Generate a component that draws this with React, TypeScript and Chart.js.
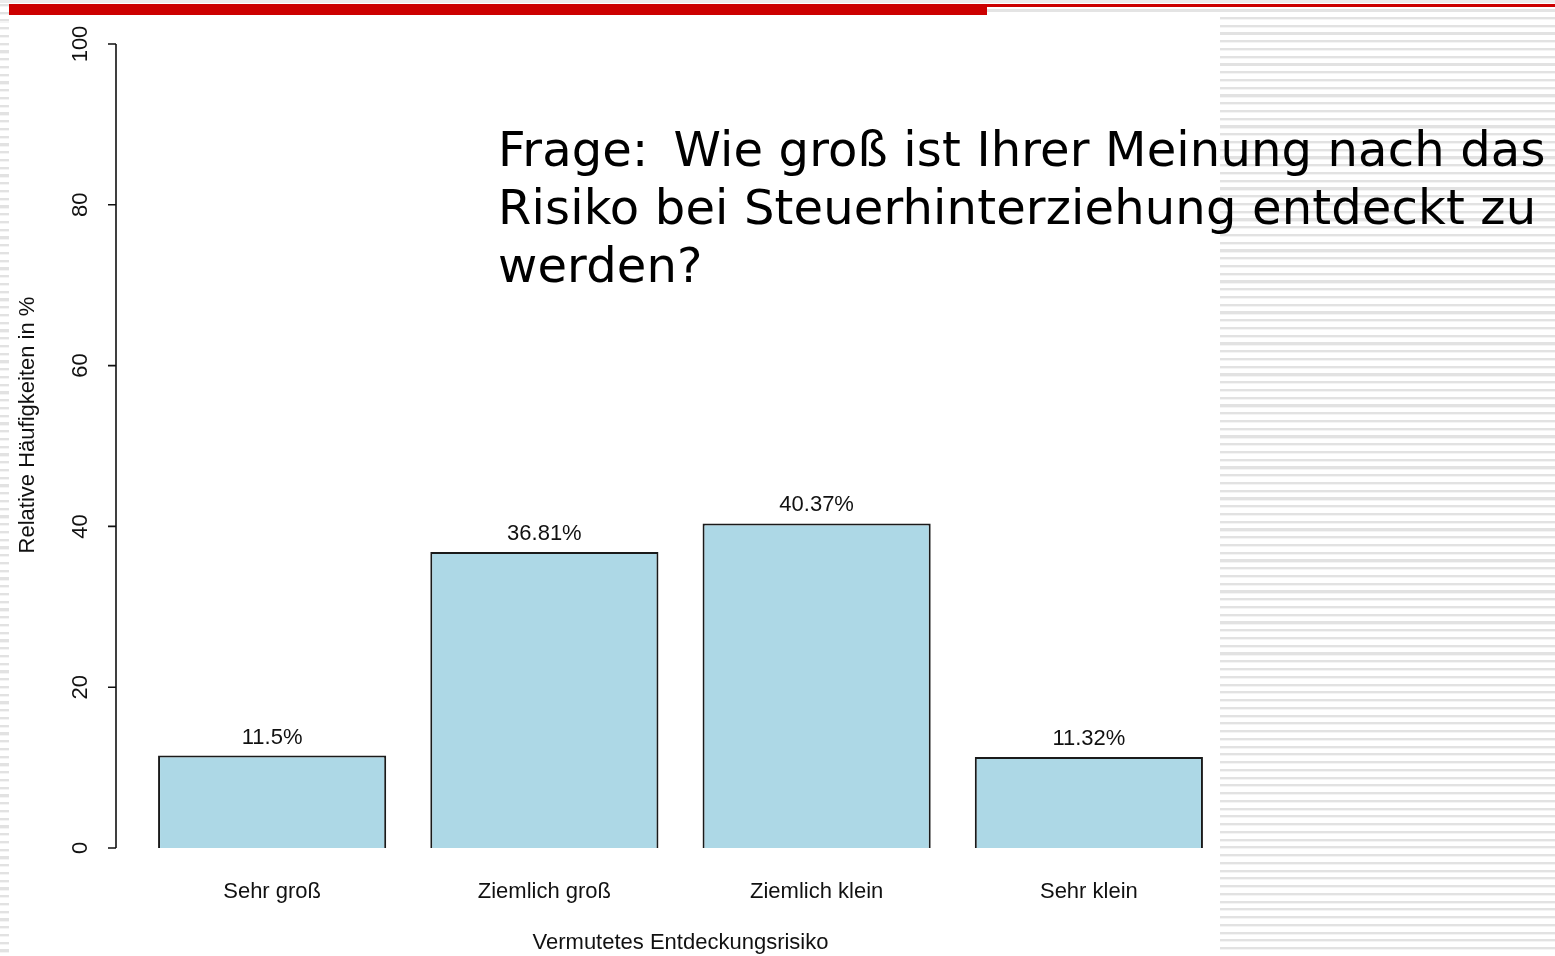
import React, { useEffect, useRef } from "react";
import { Chart, registerables } from "chart.js";

Chart.register(...registerables);

const categories = ["Sehr groß", "Ziemlich groß", "Ziemlich klein", "Sehr klein"];
const percentValues = [11.5, 36.81, 40.37, 11.32];
const valueLabels = ["11.5%", "36.81%", "40.37%", "11.32%"];
const yTicks = [0, 20, 40, 60, 80, 100];
const yTickLabels = ["0", "20", "40", "60", "80", "100"];
const xAxisTitle = "Vermutetes Entdeckungsrisiko";
const yAxisTitle = "Relative Häufigkeiten in %";
const titleLines = [
  "Frage:\u2009 Wie groß ist Ihrer Meinung nach das",
  "Risiko bei Steuerhinterziehung entdeckt zu",
  "werden?",
];

const FONT = "'Liberation Sans', Arial, sans-serif";
const TEXT = "#111111";
const FS = 22;

const rAxisPlugin = {
  id: "rAxis",
  afterDraw(chart: any) {
    const ctx = chart.ctx;
    const y = chart.scales.y;
    const axisX = chart.chartArea.left - 20;
    ctx.save();
    ctx.strokeStyle = TEXT;
    ctx.lineWidth = 1.6;
    ctx.beginPath();
    ctx.moveTo(axisX, y.getPixelForValue(yTicks[0]));
    ctx.lineTo(axisX, y.getPixelForValue(yTicks[yTicks.length - 1]));
    yTicks.forEach((t) => {
      const py = y.getPixelForValue(t);
      ctx.moveTo(axisX - 8, py);
      ctx.lineTo(axisX, py);
    });
    ctx.stroke();
    ctx.fillStyle = TEXT;
    ctx.font = `${FS}px ${FONT}`;
    ctx.textAlign = "center";
    ctx.textBaseline = "middle";
    yTicks.forEach((t, i) => {
      const py = y.getPixelForValue(t);
      ctx.save();
      ctx.translate(axisX - 35, py);
      ctx.rotate(-Math.PI / 2);
      ctx.fillText(yTickLabels[i], 0, 0);
      ctx.restore();
    });
    const midY = (y.getPixelForValue(yTicks[0]) + y.getPixelForValue(yTicks[yTicks.length - 1])) / 2 - 21;
    ctx.save();
    ctx.translate(axisX - 88, midY);
    ctx.rotate(-Math.PI / 2);
    ctx.fillText(yAxisTitle, 0, 0);
    ctx.restore();
    ctx.restore();
  },
};

const valueLabelPlugin = {
  id: "valueLabels",
  afterDatasetsDraw(chart: any) {
    const ctx = chart.ctx;
    const meta = chart.getDatasetMeta(0);
    ctx.save();
    ctx.fillStyle = TEXT;
    ctx.font = `${FS}px ${FONT}`;
    ctx.textAlign = "center";
    ctx.textBaseline = "bottom";
    meta.data.forEach((bar: any, i: number) => {
      ctx.fillText(valueLabels[i], bar.x, bar.y - 7);
    });
    ctx.restore();
  },
};

export default function App() {
  const ref = useRef<HTMLCanvasElement | null>(null);

  useEffect(() => {
    if (!ref.current) return;
    const chart = new Chart(ref.current, {
      type: "bar",
      data: {
        labels: categories,
        datasets: [
          {
            data: percentValues,
            backgroundColor: "#ADD8E6",
            borderColor: "#1a1a1a",
            borderWidth: 2,
            barPercentage: 0.838,
            categoryPercentage: 1,
          },
        ],
      },
      options: {
        responsive: false,
        animation: false,
        events: [],
        layout: { padding: { left: 136, right: 330, top: 44, bottom: 0 } },
        plugins: {
          legend: { display: false },
          tooltip: { enabled: false },
          title: { display: false },
        },
        scales: {
          y: { display: false, min: 0, max: 100 },
          x: {
            offset: true,
            grid: { display: false, drawTicks: false },
            border: { display: false },
            ticks: {
              padding: 31,
              color: TEXT,
              font: { family: FONT, size: FS },
            },
            title: {
              display: true,
              text: xAxisTitle,
              color: TEXT,
              font: { family: FONT, size: FS },
              padding: { top: 27, bottom: 0 },
            },
            afterFit: (scale: any) => {
              scale.height = 108;
            },
          },
        },
      },
      plugins: [rAxisPlugin, valueLabelPlugin],
    });
    return () => chart.destroy();
  }, []);

  const stripes =
    "repeating-linear-gradient(to bottom, #e2e2e2 0px, #e2e2e2 2px, #f4f4f4 2px, #f4f4f4 3px, transparent 3px, transparent 7.75px)";

  return (
    <div
      style={{
        position: "fixed",
        left: 0,
        top: 0,
        width: 1555,
        height: 956,
        background: "#ffffff",
        overflow: "hidden",
      }}
    >
      <div style={{ position: "absolute", left: 0, top: 0, width: 1555, height: 3, background: "#ececec" }} />
      <div style={{ position: "absolute", left: 0, top: 4, width: 9, height: 952, backgroundImage: stripes }} />
      <div style={{ position: "absolute", left: 1220, top: 17, width: 335, height: 935, backgroundImage: stripes }} />
      <div style={{ position: "absolute", left: 987, top: 9, width: 568, height: 3, background: "#e4e4e4" }} />
      <div style={{ position: "absolute", left: 987, top: 4, width: 568, height: 3, background: "#cc0000" }} />
      <div style={{ position: "absolute", left: 9, top: 4, width: 978, height: 11, background: "#cc0000" }} />
      <canvas
        ref={ref}
        width={1555}
        height={956}
        style={{ position: "absolute", left: 0, top: 0, width: 1555, height: 956 }}
      />
      <div
        style={{
          position: "absolute",
          left: 498,
          top: 120,
          fontFamily: "'DejaVu Sans', sans-serif",
          fontSize: 48,
          lineHeight: "58px",
          letterSpacing: "0.15px",
          color: "#000",
          whiteSpace: "pre",
        }}
      >
        {titleLines.map((l, i) => (
          <div key={i}>{l}</div>
        ))}
      </div>
    </div>
  );
}
